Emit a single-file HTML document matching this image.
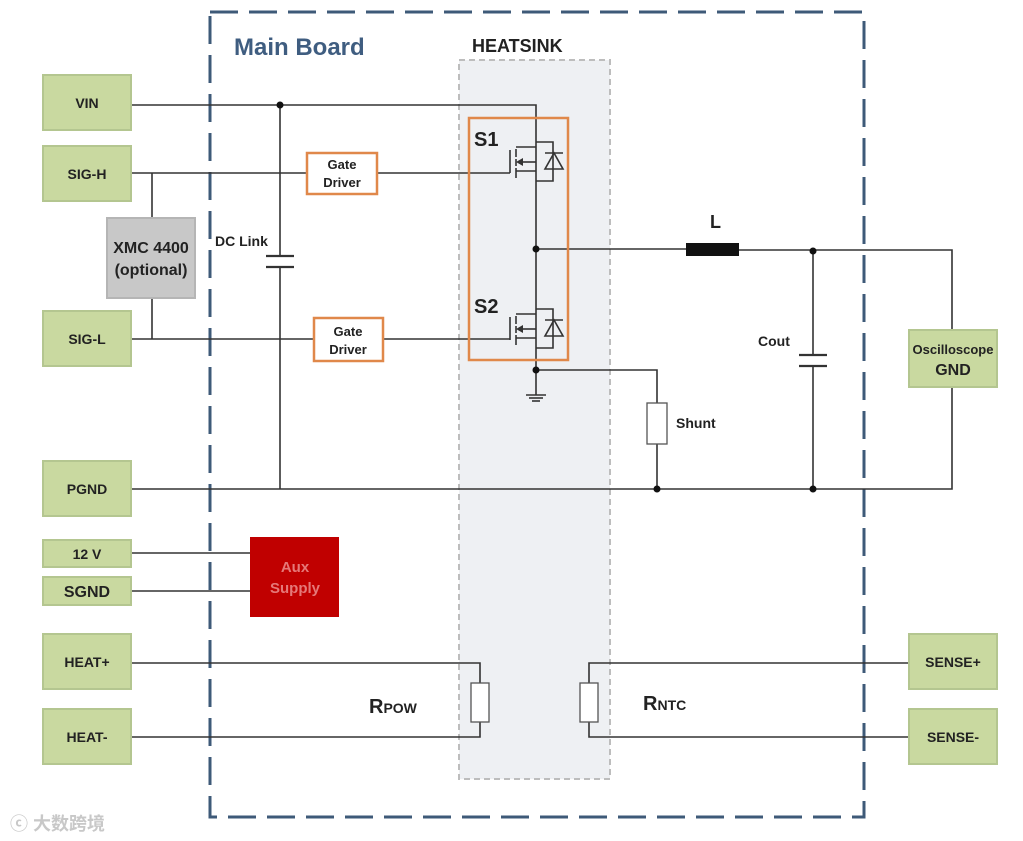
<!DOCTYPE html>
<html><head><meta charset="utf-8"><style>
html,body{margin:0;padding:0;background:#fff}
svg{display:block}
text{font-family:"Liberation Sans","Noto Sans CJK SC",sans-serif;font-weight:bold;fill:#222}
</style></head><body>
<svg width="1023" height="841" viewBox="0 0 1023 841" xmlns="http://www.w3.org/2000/svg">
<defs>
<g id="mos" stroke="#333" stroke-width="1.6" fill="none">
  <line x1="510" y1="150" x2="510" y2="173"/>
  <line x1="516" y1="149" x2="516" y2="157"/>
  <line x1="516" y1="159" x2="516" y2="166"/>
  <line x1="516" y1="168" x2="516" y2="178"/>
  <line x1="516" y1="147" x2="536" y2="147"/>
  <line x1="516" y1="171" x2="536" y2="171"/>
  <line x1="520" y1="162" x2="536" y2="162"/>
  <polyline points="536,142 553,142 553,181 536,181"/>
  <line x1="545" y1="153" x2="563" y2="153"/>
  <polygon points="545,169 563,169 554,153"/>
  <polygon points="516,162 523,158 523,166" fill="#333" stroke="none"/>
</g>
</defs>
<!-- heatsink -->
<rect x="459" y="60" width="151" height="719" fill="#eef0f3" stroke="#bdbdbd" stroke-width="2" stroke-dasharray="6 4"/>
<!-- main board -->
<rect x="210" y="12" width="654" height="805" fill="none" stroke="#3e5a78" stroke-width="3" stroke-dasharray="28 11"/>
<text x="234" y="55" font-size="24" style="fill:#3f5d80">Main Board</text>
<text x="472" y="52" font-size="18">HEATSINK</text>

<g stroke="#333" stroke-width="1.6" fill="none">
<polyline points="131,105 536,105 536,395"/>
<line x1="280" y1="105" x2="280" y2="256"/>
<line x1="266" y1="256" x2="294" y2="256" stroke-width="2.2"/>
<line x1="266" y1="267" x2="294" y2="267" stroke-width="2.2"/>
<line x1="280" y1="267" x2="280" y2="489"/>
<line x1="131" y1="173" x2="307" y2="173"/>
<line x1="377" y1="173" x2="510" y2="173"/>
<line x1="152" y1="173" x2="152" y2="218"/>
<line x1="152" y1="298" x2="152" y2="339"/>
<line x1="131" y1="339" x2="314" y2="339"/>
<line x1="383" y1="339" x2="510" y2="339"/>
<line x1="526" y1="395" x2="546" y2="395"/>
<line x1="529" y1="398" x2="543" y2="398"/>
<line x1="532" y1="401" x2="540" y2="401"/>
<line x1="536" y1="249" x2="686" y2="249"/>
<polyline points="739,250 952,250 952,330"/>
<polyline points="952,387 952,489 131,489"/>
<line x1="813" y1="250" x2="813" y2="355"/>
<line x1="799" y1="355" x2="827" y2="355" stroke-width="2.2"/>
<line x1="799" y1="366" x2="827" y2="366" stroke-width="2.2"/>
<line x1="813" y1="366" x2="813" y2="489"/>
<polyline points="536,370 657,370 657,403"/>
<line x1="657" y1="444" x2="657" y2="489"/>
<line x1="131" y1="553" x2="250" y2="553"/>
<line x1="131" y1="591" x2="250" y2="591"/>
<polyline points="131,663 480,663 480,683"/>
<polyline points="131,737 480,737 480,722"/>
<polyline points="909,663 589,663 589,683"/>
<polyline points="909,737 589,737 589,722"/>
</g>

<use href="#mos"/>
<use href="#mos" transform="translate(0,167)"/>
<rect x="469" y="118" width="99" height="242" fill="none" stroke="#e0884a" stroke-width="2.5"/>
<text x="474" y="146" font-size="20">S1</text>
<text x="474" y="313" font-size="20">S2</text>

<g fill="#111">
<circle cx="280" cy="105" r="3.5"/><circle cx="536" cy="249" r="3.5"/><circle cx="536" cy="370" r="3.5"/>
<circle cx="813" cy="251" r="3.5"/><circle cx="657" cy="489" r="3.5"/><circle cx="813" cy="489" r="3.5"/>
</g>

<rect x="686" y="243" width="53" height="13" fill="#111"/>
<text x="710" y="228" font-size="18">L</text>
<g fill="#fff" stroke="#555" stroke-width="1.3">
<rect x="647" y="403" width="20" height="41"/>
<rect x="471" y="683" width="18" height="39"/>
<rect x="580" y="683" width="18" height="39"/>
</g>
<text x="676" y="428" font-size="14">Shunt</text>
<text x="758" y="346" font-size="14">Cout</text>
<text x="215" y="246" font-size="14">DC Link</text>
<text x="369" y="713" font-size="20">R<tspan font-size="14">POW</tspan></text>
<text x="643" y="710" font-size="20">R<tspan font-size="14">NTC</tspan></text>

<g fill="#fff" stroke="#e0884a" stroke-width="2.5">
<rect x="307" y="153" width="70" height="41"/>
<rect x="314" y="318" width="69" height="43"/>
</g>
<g font-size="13" text-anchor="middle">
<text x="342" y="169">Gate</text><text x="342" y="187">Driver</text>
<text x="348" y="336">Gate</text><text x="348" y="354">Driver</text>
</g>

<g fill="#c9d9a0" stroke="#b4c690" stroke-width="2">
<rect x="43" y="75" width="88" height="55"/>
<rect x="43" y="146" width="88" height="55"/>
<rect x="43" y="311" width="88" height="55"/>
<rect x="43" y="461" width="88" height="55"/>
<rect x="43" y="540" width="88" height="27"/>
<rect x="43" y="577" width="88" height="28"/>
<rect x="43" y="634" width="88" height="55"/>
<rect x="43" y="709" width="88" height="55"/>
<rect x="909" y="634" width="88" height="55"/>
<rect x="909" y="709" width="88" height="55"/>
<rect x="909" y="330" width="88" height="57"/>
</g>
<g font-size="14" text-anchor="middle">
<text x="87" y="108">VIN</text>
<text x="87" y="179">SIG-H</text>
<text x="87" y="344">SIG-L</text>
<text x="87" y="494">PGND</text>
<text x="87" y="559">12 V</text>
<text x="87" y="597" font-size="16">SGND</text>
<text x="87" y="667">HEAT+</text>
<text x="87" y="742">HEAT-</text>
<text x="953" y="667">SENSE+</text>
<text x="953" y="742">SENSE-</text>
<text x="953" y="354" font-size="13">Oscilloscope</text>
<text x="953" y="375" font-size="16">GND</text>
</g>
<rect x="107" y="218" width="88" height="80" fill="#c8c8c8" stroke="#b5b5b5" stroke-width="2"/>
<text x="151" y="253" font-size="16" text-anchor="middle">XMC 4400</text>
<text x="151" y="275" font-size="16" text-anchor="middle">(optional)</text>
<rect x="250" y="537" width="89" height="80" fill="#c00000"/>
<text x="295" y="572" font-size="15" text-anchor="middle" style="fill:#e57878">Aux</text>
<text x="295" y="593" font-size="15" text-anchor="middle" style="fill:#e57878">Supply</text>
<text x="10" y="830" font-size="18" style="fill:#c8c8c8">ⓒ 大数跨境</text>
</svg>
</body></html>
